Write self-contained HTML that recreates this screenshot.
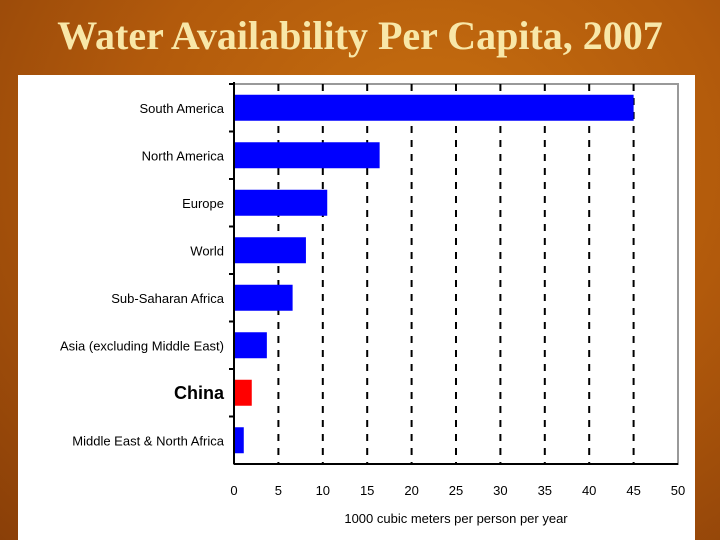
<!DOCTYPE html>
<html><head><meta charset="utf-8"><style>
html,body{margin:0;padding:0;}
body{width:720px;height:540px;overflow:hidden;background:radial-gradient(ellipse at 60% 30%,#c8700f 0%,#b25a0c 50%,#8a3f08 100%);position:relative;font-family:"Liberation Sans",sans-serif;}
#title{position:absolute;left:0;top:12px;width:720px;text-align:center;font-family:"Liberation Serif",serif;font-weight:bold;font-size:40px;color:#f8e7a8;}
#panel{position:absolute;left:18px;top:75px;width:677px;height:465px;background:#fff;}
</style></head><body>
<div id="title">Water Availability Per Capita, 2007</div>
<div id="panel"></div>
<svg id="chart" width="720" height="540" style="position:absolute;left:0;top:0"></svg>
<script>
const categories=["South America","North America","Europe","World","Sub-Saharan Africa","Asia (excluding Middle East)","China","Middle East & North Africa"];
const values=[45,16.4,10.5,8.1,6.6,3.7,2.0,1.1];
const colors=["#0000ff","#0000ff","#0000ff","#0000ff","#0000ff","#0000ff","#ff0000","#0000ff"];
const xTicks=[0,5,10,15,20,25,30,35,40,45,50];
const NS="http://www.w3.org/2000/svg";
const svg=document.getElementById('chart');
const L=234,R=678,T=84,B=464;
const xs=v=>L+(v/50)*(R-L);
const rowH=(B-T)/categories.length;
function mk(t,a){const e=document.createElementNS(NS,t);for(const k in a)e.setAttribute(k,a[k]);svg.appendChild(e);return e;}
let fr=mk('rect',{x:L,y:T,width:R-L,height:B-T,fill:'none',stroke:'#999','stroke-width':2});


xTicks.forEach(t=>{
  if(t>0&&t<50){let g=mk('line',{x1:xs(t),x2:xs(t),y1:T,y2:B,stroke:'#000','stroke-width':2,'stroke-dasharray':'7,7'});
  
  }
  let tx=mk('text',{x:xs(t),y:B+31,'text-anchor':'middle','font-size':13,fill:'#000'});
  tx.textContent=t;
  
  
});
categories.forEach((c,i)=>{
  const cy=T+rowH*(i+0.5);
  let b=mk('rect',{x:L,y:cy-13,width:xs(values[i])-L,height:26,fill:colors[i]});
  
  
  let tk=mk('line',{x1:L-5,x2:L,y1:T+rowH*i,y2:T+rowH*i,stroke:'#000','stroke-width':2});
  
  
  const isC=c==="China";
  let lb=mk('text',{x:L-10,y:cy+(isC?6:5),'text-anchor':'end','font-size':isC?18:13,'font-weight':isC?'bold':'normal',fill:'#000'});
  lb.textContent=c;
  
  
});
let ax=mk('line',{x1:L,x2:L,y1:T-2,y2:B,stroke:'#000','stroke-width':2});


let bx=mk('line',{x1:L,x2:R,y1:B,y2:B,stroke:'#000','stroke-width':2});


let xt=mk('text',{x:456,y:523,'text-anchor':'middle','font-size':13,fill:'#000'});
xt.textContent="1000 cubic meters per person per year";


</script>
</body></html>
